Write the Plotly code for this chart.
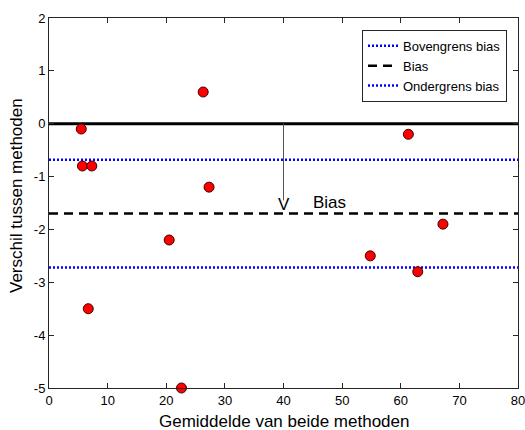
import plotly.graph_objects as go

# Data
gemiddelde = [5.5, 5.7, 7.3, 6.7, 20.5, 22.6, 26.3, 27.3, 54.8, 61.3, 62.9, 67.2]
verschil = [-0.1, -0.8, -0.8, -3.5, -2.2, -5.0, 0.6, -1.2, -2.5, -0.2, -2.8, -1.9]
bias = -1.70
bovengrens = -0.68
ondergrens = -2.72
x_range = [0, 80]
y_range = [-5, 2]
x_ticks = [0, 10, 20, 30, 40, 50, 60, 70, 80]
y_ticks = [-5, -4, -3, -2, -1, 0, 1, 2]
y_tick_labels = ["-5", "-4", "-3", "-2", "-1", "0", "1", "2"]
arrow_x = 40
arrow_y_top = 0
arrow_y_bottom = -1.45
label_y = -1.53
bias_label_x = 47.9

font = "Liberation Sans, Arial, sans-serif"

fig = go.Figure()

fig.add_trace(go.Scatter(x=x_range, y=[0, 0], mode="lines",
                         line=dict(color="black", width=3), showlegend=False,
                         hoverinfo="skip"))
fig.add_trace(go.Scatter(x=x_range, y=[bovengrens] * 2, mode="lines",
                         line=dict(color="blue", width=2.5, dash="2px,2px"),
                         name="Bovengrens bias"))
fig.add_trace(go.Scatter(x=x_range, y=[bias] * 2, mode="lines",
                         line=dict(color="black", width=2.5, dash="9px,6px"),
                         name="Bias"))
fig.add_trace(go.Scatter(x=x_range, y=[ondergrens] * 2, mode="lines",
                         line=dict(color="blue", width=2.5, dash="2px,2px"),
                         name="Ondergrens bias"))
fig.add_trace(go.Scatter(x=[arrow_x, arrow_x], y=[arrow_y_top, arrow_y_bottom],
                         mode="lines", line=dict(color="#555555", width=1),
                         showlegend=False, hoverinfo="skip"))
fig.add_trace(go.Scatter(x=gemiddelde, y=verschil, mode="markers",
                         marker=dict(color="red", size=10,
                                     line=dict(color="#400000", width=1)),
                         showlegend=False, cliponaxis=False))

fig.add_annotation(x=arrow_x, y=label_y, text="V", showarrow=False,
                   yanchor="middle", xanchor="center",
                   font=dict(family=font, size=17, color="black"))
fig.add_annotation(x=bias_label_x, y=label_y, text="Bias", showarrow=False,
                   yanchor="middle", xanchor="center", yshift=2,
                   font=dict(family=font, size=17, color="black"))

# Axis titles
fig.add_annotation(xref="paper", yref="paper", x=0.5, y=0, yshift=-33,
                   text="Gemiddelde van beide methoden", showarrow=False,
                   xanchor="center", yanchor="middle",
                   font=dict(family=font, size=17, color="black"))
fig.add_annotation(xref="paper", yref="paper", x=0, y=0.5, xshift=-33, yshift=7,
                   text="Verschil tussen methoden", showarrow=False, textangle=-90,
                   xanchor="center", yanchor="middle",
                   font=dict(family=font, size=17, color="black"))

axis_common = dict(showgrid=False, zeroline=False, showline=True, linecolor="#262626",
                   linewidth=1, mirror="ticks", ticks="inside", ticklen=5,
                   tickcolor="#262626", automargin=False, ticklabeloverflow="allow",
                   tickfont=dict(family=font, size=13, color="black"))

fig.update_xaxes(range=x_range, tickvals=x_ticks, **axis_common)
fig.update_yaxes(range=y_range, tickvals=y_ticks, ticktext=y_tick_labels, **axis_common)

fig.update_layout(
    width=525, height=430,
    margin=dict(l=49, r=7, t=18, b=42),
    plot_bgcolor="white", paper_bgcolor="white",
    font=dict(family=font, size=13, color="black"),
    legend=dict(x=0.9765, y=0.968, xanchor="right", yanchor="top",
                bgcolor="white", bordercolor="#262626", borderwidth=1,
                font=dict(family=font, size=13, color="black"),
                tracegroupgap=0, itemwidth=30),
    showlegend=True,
)

fig.write_html("out.html", config={"displayModeBar": False},
               post_script="document.body.style.margin='0';document.body.style.overflow='hidden';")
